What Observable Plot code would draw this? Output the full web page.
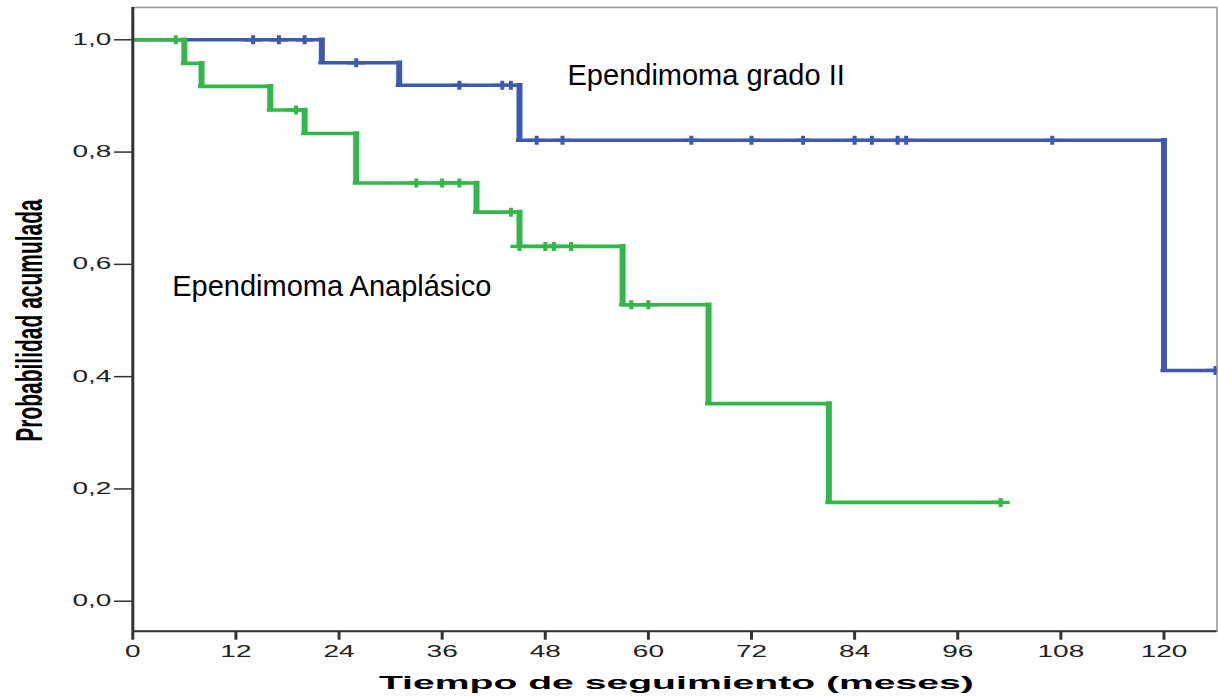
<!DOCTYPE html>
<html>
<head>
<meta charset="utf-8">
<script src="https://cdn.jsdelivr.net/npm/d3@7"></script>
<script src="https://cdn.jsdelivr.net/npm/@observablehq/plot@0.6"></script>
<style>
  html, body { margin: 0; padding: 0; background: #fff; }
</style>
</head>
<body>
<div id="chart"></div>
<script>
// Kaplan–Meier curves: cumulative survival probability by ependymoma grade

const seriesNames = ["Ependimoma grado II", "Ependimoma Anaplásico"];

// Grade II: event times (months) and survival after each event
const gradoII_eventTimes = [0, 22, 31, 45, 120];
const gradoII_survival   = [1, 0.959, 0.919, 0.821, 0.411];
const gradoII_censored   = [14, 17, 20, 26, 38, 43, 44, 47, 50, 65, 72, 78, 84, 86, 89, 90, 107, 126];
const gradoII_followUp   = 126;

// Anaplastic: event times (months) and survival after each event
const anaplasico_eventTimes = [0, 6, 8, 16, 20, 26, 40, 45, 57, 67, 81];
const anaplasico_survival   = [1, 0.958, 0.917, 0.875, 0.833, 0.745, 0.693, 0.632, 0.528, 0.352, 0.176];
const anaplasico_censored   = [5, 19, 33, 36, 38, 44, 45, 48, 49, 51, 58, 60, 101];
const anaplasico_followUp   = 101;

const xTicks = [0, 12, 24, 36, 48, 60, 72, 84, 96, 108, 120];
const yTicks = [0, 0.2, 0.4, 0.6, 0.8, 1.0];

const xLabel = "Tiempo de seguimiento (meses)";
const yLabel = "Probabilidad acumulada";

const colors = ["#3d5aae", "#34b64a"];

// Split a step function into horizontal runs, vertical drops and censor marks
function stepCurve(name, times, surv, censored, end) {
  const horizontal = times.map((t, i) => ({
    name, x1: t, x2: i + 1 < times.length ? times[i + 1] : end, y: surv[i]
  }));
  const vertical = times.slice(1).map((t, i) => ({
    name, x: t, y1: surv[i], y2: surv[i + 1]
  }));
  const level = t => surv[d3.bisectRight(times, t) - 1];
  const marks = censored.map(t => ({name, x: t, y: level(t)}));
  return {horizontal, vertical, marks};
}

const curves = [
  stepCurve(seriesNames[0], gradoII_eventTimes, gradoII_survival, gradoII_censored, gradoII_followUp),
  stepCurve(seriesNames[1], anaplasico_eventTimes, anaplasico_survival, anaplasico_censored, anaplasico_followUp)
];

// Censor marker: short thick vertical tick with a thin horizontal arm
const censorSymbol = {
  draw(context) {
    context.rect(-2, -4.5, 4, 9);
    context.rect(-9, -1.6, 18, 3.2);
  }
};

const yMin = -0.0534, yMax = 1.0575;

const curveMarks = curves.flatMap(c => [
  Plot.ruleY(c.horizontal, {
    x1: "x1", x2: "x2", y: "y", stroke: "name", strokeWidth: 3.6,
    insetLeft: -3, insetRight: -3, clip: true
  }),
  Plot.ruleX(c.vertical, {
    x: "x", y1: "y1", y2: "y2", stroke: "name", strokeWidth: 6,
    insetTop: -1.8, insetBottom: -1.8, clip: true
  }),
  Plot.dot(c.marks, {
    x: "x", y: "y", fill: "name", stroke: "none", symbol: censorSymbol, r: 2, clip: true
  })
]);

const chart = Plot.plot({
  width: 1218,
  height: 698,
  marginLeft: 132.3,
  marginRight: 1.5,
  marginTop: 7,
  marginBottom: 67.3,
  style: {fontFamily: "'Liberation Sans', Arial, sans-serif", background: "#fff", color: "#222"},
  x: {domain: [0, 126.17], ticks: xTicks, tickSize: 9, tickPadding: 5, label: null},
  y: {domain: [yMin, yMax], ticks: yTicks, tickSize: 18.4, tickPadding: 3, label: null,
      tickFormat: d => d3.format(".1f")(d).replace(".", ",")},
  color: {domain: seriesNames, range: colors},
  marks: [
    Plot.frame({stroke: "#9a9a9a", strokeWidth: 1.6}),
    ...curveMarks,
    Plot.ruleX([0], {stroke: "#333", strokeWidth: 3}),
    Plot.ruleY([yMin], {stroke: "#333", strokeWidth: 2}),
    Plot.text([seriesNames[0]], {
      x: 50.59, y: 0.9186, textAnchor: "start", lineAnchor: "bottom",
      fontSize: 29, fill: "#000"
    }),
    Plot.text([seriesNames[1]], {
      x: 4.59, y: 0.5445, textAnchor: "start", lineAnchor: "bottom",
      fontSize: 29, fill: "#000"
    }),
    Plot.text([xLabel], {
      frameAnchor: "bottom", lineAnchor: "bottom", dy: 57.6, dx: 1.5,
      fontSize: 19, fontWeight: "bold", fill: "#000"
    }),
    Plot.text([yLabel], {
      frameAnchor: "left", textAnchor: "middle", lineAnchor: "bottom", rotate: -90,
      fontSize: 21, fontWeight: "bold", fill: "#000"
    })
  ]
});

document.getElementById("chart").appendChild(chart);

const svg = d3.select(chart);

// Axis tick labels: 16px lettering widened 1.75× around each label's anchor
svg.selectAll('g[aria-label^="x-axis"] text, g[aria-label^="y-axis"] text').each(function () {
  this.setAttribute("font-size", "16");
  this.style.fontSize = "16px";
  this.setAttribute("fill", "#222");
  const x = this.getAttribute("x");
  if (x && !isNaN(+x)) this.setAttribute("x", +x / 1.75);
  const t = this.getAttribute("transform") || "";
  this.setAttribute("transform", (t + " scale(1.75,1)").trim());
});
svg.selectAll('g[aria-label^="y-axis"] path, g[aria-label^="y-axis"] line')
  .attr("stroke", "#333").attr("stroke-width", 1.5);
svg.selectAll('g[aria-label^="x-axis"] path, g[aria-label^="x-axis"] line')
  .attr("stroke", "#333").attr("stroke-width", 3);

// Axis titles, widened like the rest of the chart's lettering
const byContent = s => svg.selectAll("text").filter(function () { return this.textContent === s; });
byContent(xLabel)
  .attr("textLength", 595)
  .attr("lengthAdjust", "spacingAndGlyphs");
byContent(yLabel)
  .attr("x", null).attr("y", null).attr("dy", null)
  .attr("text-anchor", "middle")
  .attr("transform", "translate(41.7,320) scale(1.75,1) rotate(-90)");
</script>
</body>
</html>
